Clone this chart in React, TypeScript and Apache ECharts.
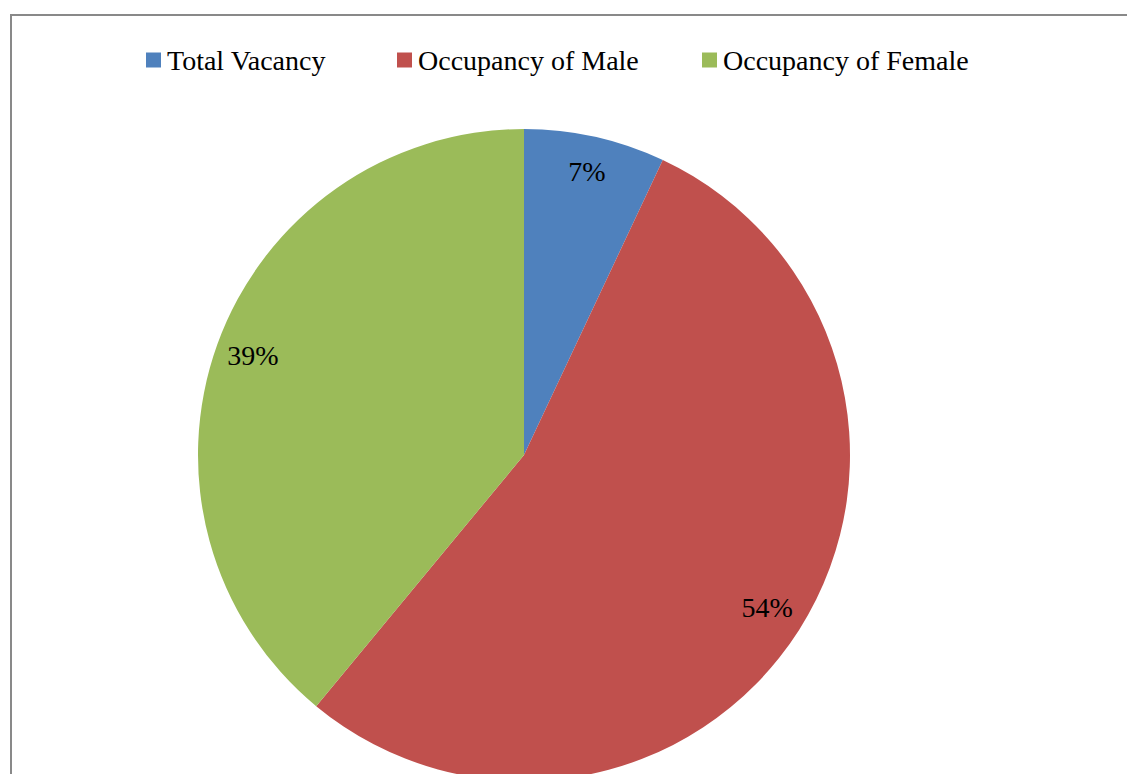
import React, { useEffect, useRef } from "react";
import * as echarts from "echarts";

const categories = ["Total Vacancy", "Occupancy of Male", "Occupancy of Female"];
const shares = [7, 54, 39];
const colors = ["#4F81BD", "#C0504D", "#9BBB59"];
const legendLefts = [146, 397, 702];

const FONT = "'Liberation Serif', 'DejaVu Serif', serif";

export default function App() {
  const ref = useRef<HTMLDivElement>(null);

  useEffect(() => {
    if (!ref.current) return;
    const chart = echarts.init(ref.current, null, { renderer: "svg" });
    const data = categories.map((name, i) => ({
      name,
      value: shares[i],
      itemStyle: { color: colors[i] },
    }));
    chart.setOption({
      animation: false,
      backgroundColor: "#ffffff",
      graphic: [
        {
          type: "rect",
          shape: { x: 11, y: 15, width: 1200, height: 820 },
          style: { fill: "none", stroke: "#898989", lineWidth: 2 },
          silent: true,
        },
      ],
      legend: categories.map((name, i) => ({
        data: [name],
        left: legendLefts[i],
        top: 46,
        padding: 0,
        icon: "rect",
        itemWidth: 15,
        itemHeight: 15,
        textStyle: {
          fontFamily: FONT,
          fontSize: 28,
          lineHeight: 28,
          color: "#000000",
          padding: [0, 0, 0, 1],
        },
        selectedMode: false,
      })),
      series: [
        {
          type: "pie",
          center: [524, 455],
          radius: [0, 326],
          startAngle: 90,
          clockwise: true,
          data,
          label: { show: false },
          labelLine: { show: false },
          emphasis: { disabled: true },
          silent: true,
        },
        {
          // transparent ring that only carries the percentage labels near the rim
          type: "pie",
          center: [524, 453],
          radius: [242, 328],
          startAngle: 90,
          clockwise: true,
          data: data.map((d) => ({ ...d, itemStyle: { color: "rgba(0,0,0,0)" } })),
          label: {
            show: true,
            position: "inside",
            formatter: "{c}%",
            fontFamily: FONT,
            fontSize: 28,
            color: "#000000",
          },
          labelLine: { show: false },
          emphasis: { disabled: true },
          silent: true,
        },
      ],
    });
    return () => chart.dispose();
  }, []);

  return (
    <div
      ref={ref}
      style={{ position: "absolute", left: 0, top: 0, width: 1127, height: 774, overflow: "hidden" }}
    />
  );
}
